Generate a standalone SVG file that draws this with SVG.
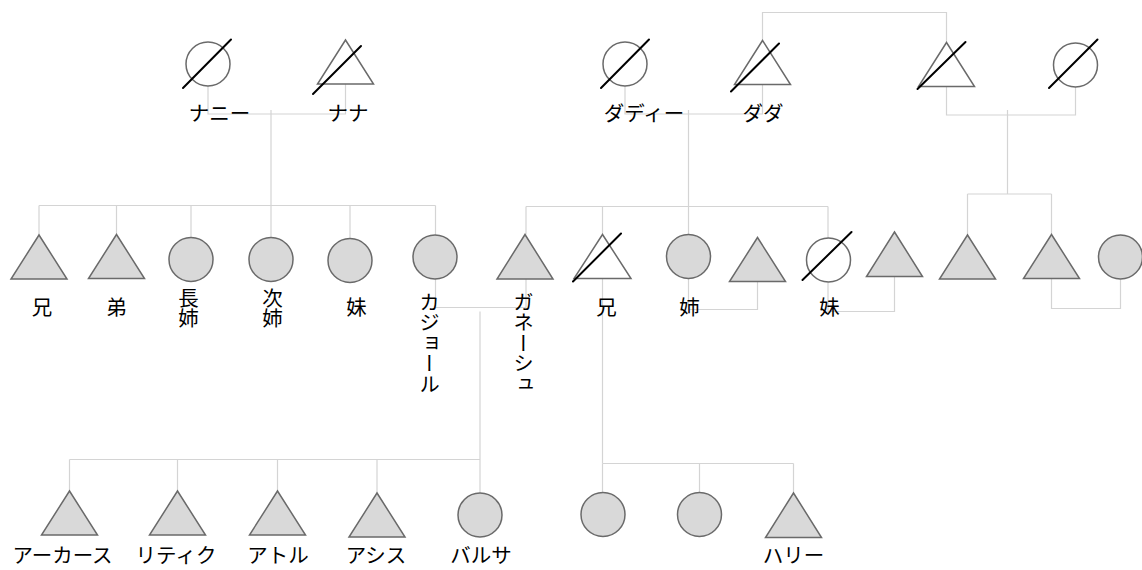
<svg xmlns="http://www.w3.org/2000/svg" width="1142" height="570" viewBox="0 0 1142 570">
  <style>
    .bg { fill: #ffffff; }
    .live { fill: #d9d9d9; stroke: #6a6a6a; stroke-width: 1.5; }
    .dead { fill: #ffffff; stroke: #6a6a6a; stroke-width: 1.5; }
    .slash { stroke: #000000; stroke-width: 2; stroke-linecap: round; }
    .link { fill: none; stroke: #d4d4d4; stroke-width: 1.2; }
    .lbl { font-family: "Noto Sans CJK JP", "Liberation Sans", sans-serif; font-size: 20.5px; fill: #000000; text-anchor: middle; }
    .vlbl { font-family: "Noto Sans CJK JP", "Liberation Sans", sans-serif; font-size: 20.5px; fill: #000000; text-anchor: middle; writing-mode: vertical-rl; }
  </style>
  <rect class="bg" x="0" y="0" width="1142" height="570"/>

  <!-- connectors: couple lines, descent lines, sibling bars -->
  <g id="connectors">
    <path class="link" d="M208,86 V114 H345.5 V84"/>
    <path class="link" d="M271,110 V237.5"/>
    <path class="link" d="M39,205.5 H435.5"/>
    <path class="link" d="M39,205.5 V235"/>
    <path class="link" d="M116.5,205.5 V234.5"/>
    <path class="link" d="M191,205.5 V237.5"/>
    <path class="link" d="M350,205.5 V238.5"/>
    <path class="link" d="M435.5,205.5 V235"/>

    <path class="link" d="M625,86 V114 H762.5 V84.5"/>
    <path class="link" d="M688.5,110 V234.5"/>
    <path class="link" d="M526,206.5 H828"/>
    <path class="link" d="M526,206.5 V234.5"/>
    <path class="link" d="M602.5,206.5 V234.5"/>
    <path class="link" d="M828,206.5 V238"/>

    <path class="link" d="M762.5,40.5 V12.5 H946.5 V42.5"/>
    <path class="link" d="M946.5,86.5 V115 H1075.5 V87"/>
    <path class="link" d="M1007.5,110 V194"/>
    <path class="link" d="M967.5,194 H1051.5"/>
    <path class="link" d="M967.5,194 V235"/>
    <path class="link" d="M1051.5,194 V234.5"/>

    <path class="link" d="M435.5,279 V307.5 H526 V279"/>
    <path class="link" d="M480,311.5 V493"/>
    <path class="link" d="M69.5,459.5 H480"/>
    <path class="link" d="M69.5,459.5 V491"/>
    <path class="link" d="M177.5,459.5 V491"/>
    <path class="link" d="M277.5,459.5 V491"/>
    <path class="link" d="M377,459.5 V493"/>

    <path class="link" d="M688.5,279 V309.5 H757.5 V281.5"/>
    <path class="link" d="M828,282.5 V311.5 H894.5 V276.5"/>
    <path class="link" d="M1051.5,278.5 V308.5 H1120.5 V279.5"/>

    <path class="link" d="M602.5,278.5 V463.5"/>
    <path class="link" d="M602.5,463.5 H793.5"/>
    <path class="link" d="M602.5,463.5 V492.5"/>
    <path class="link" d="M699.5,463.5 V492.5"/>
    <path class="link" d="M793.5,463.5 V492.5"/>
  </g>

  <!-- grandparents, left couple -->
  <g id="nanny">
    <circle class="dead" cx="208" cy="64" r="22"/>
    <line class="slash" x1="183" y1="88" x2="231" y2="39.5"/>
    <text class="lbl" x="219.5" y="120.5">ナニー</text>
  </g>
  <g id="nana">
    <polygon class="dead" points="345.5,40 317.5,84 373.5,84"/>
    <line class="slash" x1="313" y1="94" x2="361" y2="46"/>
    <text class="lbl" x="348" y="120.5">ナナ</text>
  </g>

  <!-- grandparents, middle couple -->
  <g id="daddy">
    <circle class="dead" cx="625" cy="64" r="22"/>
    <line class="slash" x1="601" y1="88" x2="649" y2="39.5"/>
    <text class="lbl" x="644" y="120.5">ダディー</text>
  </g>
  <g id="dada">
    <polygon class="dead" points="762.5,40.5 734.5,84.5 790.5,84.5"/>
    <line class="slash" x1="731" y1="91.5" x2="779" y2="43.5"/>
    <text class="lbl" x="763" y="120.5">ダダ</text>
  </g>

  <!-- right couple -->
  <g id="great-father">
    <polygon class="dead" points="946.5,42.5 918.5,86.5 974.5,86.5"/>
    <line class="slash" x1="917.5" y1="89" x2="965.5" y2="42"/>
  </g>
  <g id="great-mother">
    <circle class="dead" cx="1075.5" cy="65" r="22"/>
    <line class="slash" x1="1049" y1="88" x2="1097.5" y2="39.5"/>
  </g>

  <!-- second generation, left family -->
  <g id="ani-1">
    <polygon class="live" points="39,235 11,279 67,279"/>
    <text class="vlbl" x="42" y="307">兄</text>
  </g>
  <g id="otouto">
    <polygon class="live" points="116.5,234.5 88.5,278.5 144.5,278.5"/>
    <text class="vlbl" x="116.5" y="307">弟</text>
  </g>
  <g id="choushi">
    <circle class="live" cx="191" cy="259.5" r="22"/>
    <text class="vlbl" x="188.5" y="308">長姉</text>
  </g>
  <g id="jishi">
    <circle class="live" cx="271" cy="259.5" r="22"/>
    <text class="vlbl" x="272.5" y="308">次姉</text>
  </g>
  <g id="imouto-1">
    <circle class="live" cx="350" cy="260.5" r="22"/>
    <text class="vlbl" x="356.5" y="307">妹</text>
  </g>
  <g id="kajol">
    <circle class="live" cx="435" cy="257" r="22"/>
    <text class="vlbl" x="429.5" y="343">カジョール</text>
  </g>

  <!-- second generation, middle family -->
  <g id="ganesh">
    <polygon class="live" points="525,234.5 497,279 553,279"/>
    <text class="vlbl" x="523.5" y="343">ガネーシュ</text>
  </g>
  <g id="ani-2">
    <polygon class="dead" points="602.5,234.5 574,278.5 631,278.5"/>
    <line class="slash" x1="573" y1="281.5" x2="621" y2="233.5"/>
    <text class="vlbl" x="606.5" y="307">兄</text>
  </g>
  <g id="ane">
    <circle class="live" cx="688.5" cy="256.5" r="22"/>
    <text class="vlbl" x="689.5" y="307">姉</text>
  </g>
  <g id="ane-spouse">
    <polygon class="live" points="757.5,237.5 729.5,281.5 785.5,281.5"/>
  </g>
  <g id="imouto-2">
    <circle class="dead" cx="828.5" cy="260" r="22"/>
    <line class="slash" x1="802.5" y1="280" x2="851.5" y2="232"/>
    <text class="vlbl" x="829.5" y="307">妹</text>
  </g>
  <g id="imouto-spouse">
    <polygon class="live" points="894.5,232 866.5,276.5 922.5,276.5"/>
  </g>

  <!-- second generation, right family -->
  <g id="right-son-1">
    <polygon class="live" points="967.5,235 939.5,279 995.5,279"/>
  </g>
  <g id="right-son-2">
    <polygon class="live" points="1051.5,234.5 1023.5,278.5 1079.5,278.5"/>
  </g>
  <g id="right-son-2-spouse">
    <circle class="live" cx="1120.5" cy="257" r="22"/>
  </g>

  <!-- third generation -->
  <g id="aakaas">
    <polygon class="live" points="69.5,491 41.5,535 97.5,535"/>
    <text class="lbl" x="62.5" y="563">アーカース</text>
  </g>
  <g id="ritik">
    <polygon class="live" points="177.5,491 149.5,535 205.5,535"/>
    <text class="lbl" x="176" y="563">リティク</text>
  </g>
  <g id="atul">
    <polygon class="live" points="277.5,491 249.5,535 305.5,535"/>
    <text class="lbl" x="278" y="563">アトル</text>
  </g>
  <g id="asis">
    <polygon class="live" points="377,493 349,537 405,537"/>
    <text class="lbl" x="376" y="563">アシス</text>
  </g>
  <g id="barsa">
    <circle class="live" cx="480" cy="515" r="22"/>
    <text class="lbl" x="481" y="563">バルサ</text>
  </g>
  <g id="niece-1">
    <circle class="live" cx="603" cy="514.5" r="22"/>
  </g>
  <g id="niece-2">
    <circle class="live" cx="699.5" cy="514.5" r="22"/>
  </g>
  <g id="harry">
    <polygon class="live" points="793.5,493 765.5,537.5 821.5,537.5"/>
    <text class="lbl" x="793.5" y="563">ハリー</text>
  </g>
</svg>
